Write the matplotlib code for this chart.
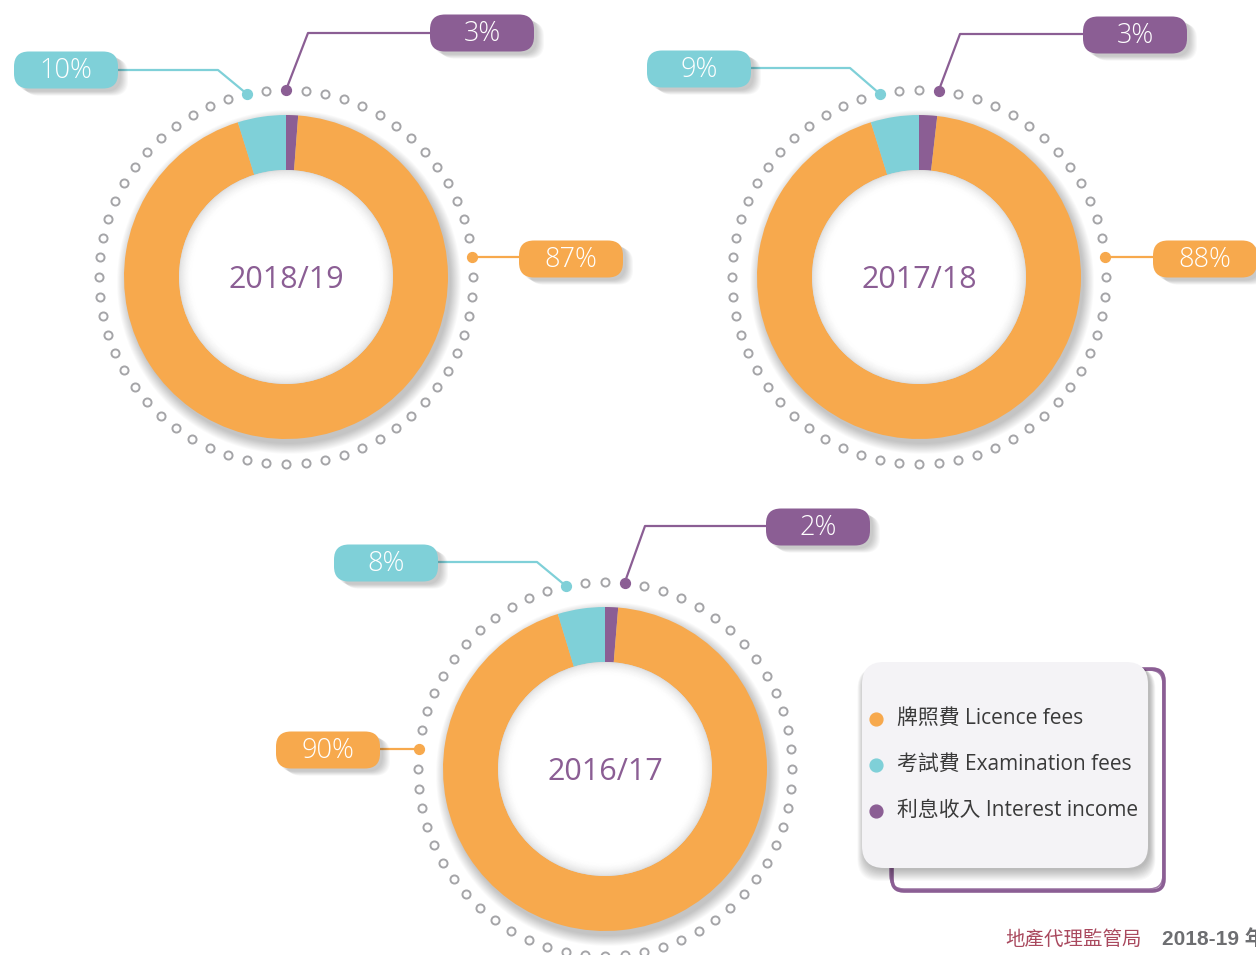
import matplotlib.pyplot as plt
import numpy as np
from matplotlib.patches import Circle, Wedge, FancyBboxPatch

# colours
ORANGE = '#f7a94d'
CYAN = '#7fd0d8'
PURPLE = '#8b5e94'
DOTGREY = '#a5a5a8'

# data
years = ['2018/19', '2017/18', '2016/17']
licence_pct = ['87%', '88%', '90%']
exam_pct = ['10%', '9%', '8%']
interest_pct = ['3%', '3%', '2%']
# wedge shares as drawn in the source graphic (interest, licence, exam)
interest_share = [1.2, 1.8, 1.3]
exam_share = [4.8, 4.8, 4.7]
licence_share = [94.0, 93.4, 94.0]

legend_labels = ['牌照費 Licence fees', '考試費 Examination fees', '利息收入 Interest income']

W, H = 1256, 955


def Y(py):
    return H - py


fig = plt.figure(figsize=(W / 100, H / 100), dpi=100)
ax = fig.add_axes([0, 0, 1, 1])

latin = ['Open Sans', 'Noto Sans CJK TC', 'DejaVu Sans']

# layout per donut: centre, dot angles (deg) of the three leader points, tag centres
centres = [(286, 277), (919, 277), (605, 769)]
R_OUT, R_IN, R_DOTS = 162, 107, 187
orange_ang = [6, 6, 174]
cyan_ang = [102, 102, 102]
purple_ang = [90, 84, 84]
orange_tag = [(571, 259), (1205, 259), (328, 750)]
cyan_tag = [(66, 70), (699, 69), (386, 563)]
purple_tag = [(482, 33), (1135, 35), (818, 527)]
cyan_elbow = [(218, 70), (850, 68), (537, 562)]
purple_elbow = [(308, 33), (960, 34), (645, 526)]


def tag(x, y, text, color):
    w, h = 104, 37
    x0, y0 = x - w / 2, Y(y) - h / 2
    for k in range(8):
        ax.add_patch(FancyBboxPatch((x0 + 3 + k, y0 - 3 - k * 0.6), w, h,
                                    boxstyle='round,pad=0,rounding_size=15',
                                    fc='black', ec='none', alpha=0.028, zorder=4))
    ax.add_patch(FancyBboxPatch((x0, y0), w, h, boxstyle='round,pad=0,rounding_size=15',
                                fc=color, ec='none', zorder=5))
    ax.text(x, Y(y) - 1, text, color='white', fontsize=19.5, ha='center', va='center',
            family=latin, weight='light', zorder=6)


for i, (cx, cy) in enumerate(centres):
    c = (cx, Y(cy))
    # soft shadow under the ring
    for k in range(12):
        ax.add_patch(Circle((cx + 3, Y(cy) - 5), R_OUT + k * 0.9, fc='black', ec='none',
                            alpha=0.02, zorder=1))
    ax.pie([interest_share[i], licence_share[i], exam_share[i]],
           colors=[PURPLE, ORANGE, CYAN], startangle=90, counterclock=False,
           radius=R_OUT, center=c, frame=False,
           wedgeprops=dict(width=R_OUT - R_IN, edgecolor='none', zorder=2))
    ax.add_patch(Circle(c, R_IN, fc='white', ec='none', zorder=2))
    # inset shadow of the hole
    for k in range(14):
        ax.add_patch(Wedge(c, R_IN - k, 0, 360, width=1.0, fc='black', ec='none',
                           alpha=0.12 * (1 - k / 14) ** 2, zorder=3))
    ax.text(cx, Y(cy) - 3, years[i], color=PURPLE, fontsize=22, ha='center', va='center',
            family=latin, zorder=6)

    # dotted ring
    marks = [orange_ang[i], cyan_ang[i], purple_ang[i]]
    ang = np.arange(0, 360, 6)
    ang = np.array([a for a in ang if min(abs((a - m + 180) % 360 - 180) for m in marks) > 1])
    ax.scatter(cx + R_DOTS * np.cos(np.radians(ang)), Y(cy) + R_DOTS * np.sin(np.radians(ang)),
               s=34, facecolor='white', edgecolor=DOTGREY, linewidth=1.4, zorder=3)

    # leader lines
    def pt(a):
        return cx + R_DOTS * np.cos(np.radians(a)), Y(cy) + R_DOTS * np.sin(np.radians(a))

    ox, oy = pt(orange_ang[i])
    tx = orange_tag[i][0] + (-52 if orange_ang[i] < 90 else 52)
    ax.plot([ox, tx], [oy, oy], color=ORANGE, lw=1.6, zorder=4)
    ax.scatter([ox], [oy], s=50, color=ORANGE, zorder=5)

    px, py = pt(cyan_ang[i])
    ex, ey = cyan_elbow[i]
    ax.plot([cyan_tag[i][0] + 52, ex, px], [Y(ey), Y(ey), py], color=CYAN, lw=1.6, zorder=4)
    ax.scatter([px], [py], s=50, color=CYAN, zorder=5)

    qx, qy = pt(purple_ang[i])
    ex, ey = purple_elbow[i]
    ax.plot([purple_tag[i][0] - 52, ex, qx], [Y(ey), Y(ey), qy], color=PURPLE, lw=1.6, zorder=4)
    ax.scatter([qx], [qy], s=50, color=PURPLE, zorder=5)

    tag(*orange_tag[i], licence_pct[i], ORANGE)
    tag(*cyan_tag[i], exam_pct[i], CYAN)
    tag(*purple_tag[i], interest_pct[i], PURPLE)

# legend card
ax.add_patch(FancyBboxPatch((892, Y(891)), 272, 222, boxstyle='round,pad=0,rounding_size=12',
                            fc='none', ec=PURPLE, lw=2.6, zorder=2))
ax.add_patch(FancyBboxPatch((890, Y(889)), 273, 219, boxstyle='round,pad=0,rounding_size=14',
                            fc='none', ec=PURPLE, lw=1.2, alpha=0.8, zorder=2))
for k in range(12):
    ax.add_patch(FancyBboxPatch((862 - k * 0.6 + 2, Y(868) - k - 2), 286 + k * 1.1, 206 + k * 0.7,
                                boxstyle='round,pad=0,rounding_size=22',
                                fc='black', ec='none', alpha=0.022, zorder=3))
ax.add_patch(FancyBboxPatch((862, Y(868)), 286, 206, boxstyle='round,pad=0,rounding_size=22',
                            fc='#f4f3f6', ec='none', zorder=4))
for lab, col, yy in zip(legend_labels, [ORANGE, CYAN, PURPLE], [719, 765, 811]):
    ax.scatter([876], [Y(yy)], s=85, color=col, zorder=5)
    ax.text(897, Y(yy) + 1, lab, fontsize=15, color='#3a3a3a', ha='left', va='center',
            family=latin, zorder=5)

# footer
ax.text(1005, Y(939), '地產代理監管局', fontsize=14, color='#a9495e', ha='left', va='center',
        family=['Noto Sans CJK TC'])
ax.text(1162, Y(939), '2018-19 年', fontsize=15, color='#6d6e71', ha='left', va='center',
        family=['Liberation Sans', 'Noto Sans CJK TC'], weight='bold')

ax.set_xlim(0, W)
ax.set_ylim(0, H)
ax.set_aspect('equal')
ax.axis('off')
fig.savefig('out.png', dpi=100)
